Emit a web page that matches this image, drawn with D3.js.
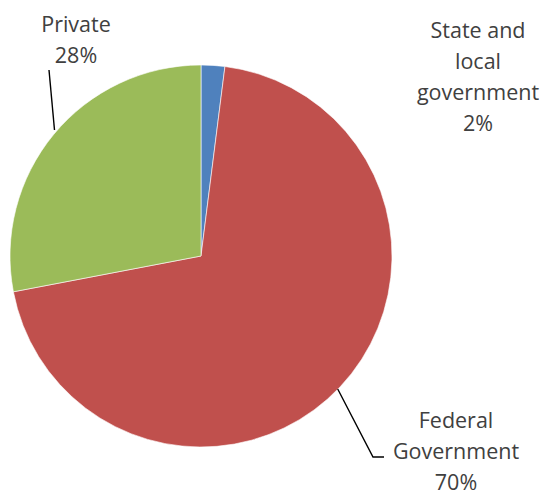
<!DOCTYPE html>
<html><head><meta charset="utf-8">
<script src="https://cdn.jsdelivr.net/npm/d3@7"></script>
<style>body{margin:0;background:#fff}svg{display:block}</style>
</head><body>
<script>
const categories = ["State and local government", "Federal Government", "Private"];
const values = [2, 70, 28];
const colors = ["#4F81BD", "#C0504D", "#9BBB59"];
const labelLines = [["State and", "local", "government", "2%"], ["Federal", "Government", "70%"], ["Private", "28%"]];

const W = 545, H = 495, cx = 201, cy = 256, r = 191;
const svg = d3.select("body").append("svg").attr("width", W).attr("height", H);
const pie = d3.pie().sort(null).value(d => d)(values);
const arc = d3.arc().innerRadius(0).outerRadius(r);
const g = svg.append("g").attr("transform", `translate(${cx},${cy})`);
g.selectAll("path").data(pie).join("path")
  .attr("d", arc).attr("fill", (d, i) => colors[i])
  .attr("stroke", "#fff").attr("stroke-width", 0.6);

const labelPos = [{x: 478, y: 38}, {x: 456, y: 428}, {x: 76, y: 32}];
const lh = 31;
labelPos.forEach((p, i) => {
  const t = svg.append("text").attr("text-anchor", "middle")
    .attr("font-family", "Open Sans, sans-serif").attr("font-size", 21.5).attr("fill", "#404040");
  labelLines[i].forEach((s, j) => t.append("tspan").attr("x", p.x).attr("y", p.y + j * lh).text(s));
});

svg.append("polyline").attr("fill", "none").attr("stroke", "#000").attr("stroke-width", 1.4)
  .attr("points", [[337.7, 389], [373, 457], [384, 457]].map(p => p.join(",")).join(" "));
svg.append("polyline").attr("fill", "none").attr("stroke", "#000").attr("stroke-width", 1.4)
  .attr("points", [[49, 70], [54.5, 130]].map(p => p.join(",")).join(" "));
</script>
</body></html>
